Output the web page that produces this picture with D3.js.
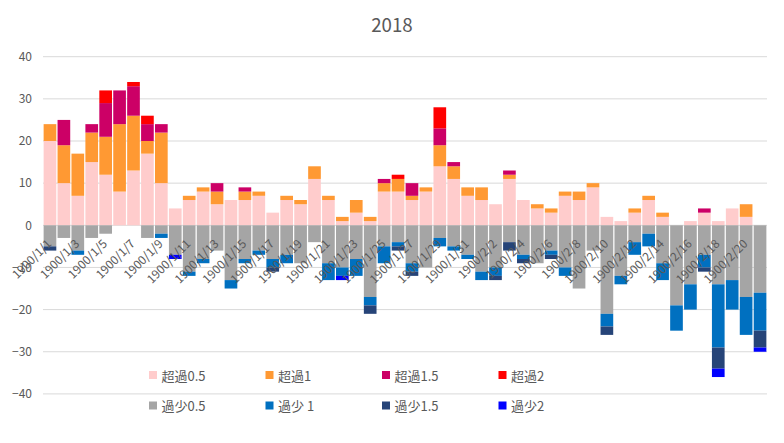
<!DOCTYPE html>
<html>
<head>
<meta charset="utf-8">
<script src="https://cdn.jsdelivr.net/npm/d3@7"></script>
<style>
html,body{margin:0;padding:0;background:#fff;}
svg{display:block;font-family:"Noto Sans CJK JP","Noto Sans",sans-serif;}
</style>
</head>
<body>
<svg id="chart" width="784" height="443"></svg>
<script>
// ---- data ----
const title = "2018";
const categories = [
 "1900/1/1","1900/1/2","1900/1/3","1900/1/4","1900/1/5","1900/1/6","1900/1/7","1900/1/8","1900/1/9","1900/1/10",
 "1900/1/11","1900/1/12","1900/1/13","1900/1/14","1900/1/15","1900/1/16","1900/1/17","1900/1/18","1900/1/19","1900/1/20",
 "1900/1/21","1900/1/22","1900/1/23","1900/1/24","1900/1/25","1900/1/26","1900/1/27","1900/1/28","1900/1/29","1900/1/30",
 "1900/1/31","1900/2/1","1900/2/2","1900/2/3","1900/2/4","1900/2/5","1900/2/6","1900/2/7","1900/2/8","1900/2/9",
 "1900/2/10","1900/2/11","1900/2/12","1900/2/13","1900/2/14","1900/2/15","1900/2/16","1900/2/17","1900/2/18","1900/2/19",
 "1900/2/20","1900/2/21"
];
const seriesNames = ["超過0.5","超過1","超過1.5","超過2","過少0.5","過少 1","過少1.5","過少2"];
const seriesColors = ["#FFCCCC","#FF9933","#CC0066","#FF0000","#A5A5A5","#0070C0","#264478","#0000FF"];
const over05 = [20,10,7,15,12,8,13,17,10,4, 6,8,5,6,6,7,3,6,5,11, 6,1,3,1,8,8,6,8,14,11, 7,6,5,11,6,4,3,7,6,9, 2,1,3,6,2,0,1,3,1,4, 2,0];
const over1  = [4,9,10,7,9,16,13,3,12,0, 1,1,3,0,2,1,0,1,1,3, 1,1,3,1,2,3,1,1,5,3, 2,3,0,1,0,1,1,1,2,1, 0,0,1,1,1,0,0,0,0,0, 3,0];
const over15 = [0,6,0,2,8,8,7,4,2,0, 0,0,2,0,1,0,0,0,0,0, 0,0,0,0,1,0,3,0,4,1, 0,0,0,1,0,0,0,0,0,0, 0,0,0,0,0,0,0,1,0,0, 0,0];
const over2  = [0,0,0,0,3,0,1,2,0,0, 0,0,0,0,0,0,0,0,0,0, 0,0,0,0,0,1,0,0,5,0, 0,0,0,0,0,0,0,0,0,0, 0,0,0,0,0,0,0,0,0,0, 0,0];
const under05 = [-5,-3,-6,-3,-2,0,0,-3,-2,-7, -11,-8,-6,-13,-8,-6,-8,-7,-9,-4, -9,-10,-8,-17,-5,-4,-9,-10,-3,-5, -7,-11,-10,-4,-7,-9,-6,-10,-15,-6, -21,-12,-4,-2,-9,-19,-14,-7,-14,-13, -17,-16];
const under1  = [0,0,-1,0,0,0,0,0,-1,0, -1,-1,0,-2,-1,-1,-2,-2,0,0, -4,-2,-4,-2,-4,-1,-2,0,-2,-1, -1,-2,-2,0,-1,0,-1,-2,0,0, -3,-2,-3,-3,-4,-6,-6,-3,-15,-7, -9,-9];
const under15 = [-1,0,0,0,0,0,0,0,0,0, 0,0,0,0,0,0,-1,0,0,0, 0,0,0,-2,0,-1,-1,0,0,0, 0,0,-1,-2,-1,0,-1,0,0,0, -2,0,0,0,0,0,0,-1,-5,0, 0,-4];
const under2  = [0,0,0,0,0,0,0,0,0,-1, 0,0,0,0,0,0,0,0,0,0, 0,-1,0,0,0,0,0,0,0,0, 0,0,0,0,0,0,0,0,0,0, 0,0,0,0,0,0,0,0,-2,0, 0,-1];
const yTicks = [-40,-30,-20,-10,0,10,20,30,40];

// ---- build table ----
const seriesData = [over05,over1,over15,over2,under05,under1,under15,under2];
const rows = categories.map((c,i)=>{
  const r = {cat:c};
  seriesNames.forEach((n,k)=>{ r[n] = seriesData[k][i]; });
  return r;
});

const svg = d3.select("#chart");
const W = 784, H = 443;
const plot = {left:43, right:767, top:56.7, bottom:393.9};

const x = d3.scaleBand().domain(categories).range([plot.left, plot.right]).paddingInner(0.09).paddingOuter(0.045);
const y = d3.scaleLinear().domain([-40,40]).range([plot.bottom, plot.top]);

// gridlines
svg.append("g").selectAll("line").data(yTicks).join("line")
  .attr("x1", plot.left).attr("x2", plot.right)
  .attr("y1", d=>y(d)).attr("y2", d=>y(d))
  .attr("stroke", "#D9D9D9").attr("stroke-width", 1);

// y axis labels
const yAxis = d3.axisLeft(y).tickValues(yTicks).tickSize(0).tickPadding(0);
const gy = svg.append("g").attr("transform", `translate(${plot.left-11},0)`).call(yAxis);
gy.select(".domain").remove();
gy.selectAll("text").attr("fill","#595959").style("font-size","12px")
  .style("font-family","'Noto Sans CJK JP','Noto Sans',sans-serif");

// stacked bars
const stack = d3.stack().keys(seriesNames).offset(d3.stackOffsetDiverging);
const stacked = stack(rows);
svg.append("g").selectAll("g").data(stacked).join("g")
  .attr("fill", (d,i)=>seriesColors[i])
  .selectAll("rect").data(d=>d).join("rect")
  .attr("x", d=>x(d.data.cat))
  .attr("width", x.bandwidth())
  .attr("y", d=>y(Math.max(d[0],d[1])))
  .attr("height", d=>Math.abs(y(d[0])-y(d[1])));

// category axis labels (every other)
const xAxis = d3.axisBottom(x).tickValues(categories.filter((c,i)=>i%2===0)).tickSize(0).tickPadding(0);
const gx = svg.append("g").attr("transform", `translate(0,${y(0)})`).call(xAxis);
gx.select(".domain").remove();
gx.selectAll("text")
  .attr("fill","#595959").style("font-size","12px")
  .style("font-family","'Noto Sans CJK JP','Noto Sans',sans-serif")
  .attr("text-anchor","end")
  .attr("dy", null).attr("y", null)
  .attr("transform","translate(0,17) rotate(-45)")
  .attr("dominant-baseline","middle");

// title
svg.append("text").attr("x", W/2).attr("y", 31.5).attr("text-anchor","middle")
  .attr("fill","#595959").style("font-size","18.7px").text(title);

// legend
const legCols = [149, 265.5, 382, 498.5];
const legRows = [375, 405.5];
const leg = svg.append("g").selectAll("g").data(seriesNames).join("g")
  .attr("transform",(d,i)=>`translate(${legCols[i%4]},${legRows[Math.floor(i/4)]})`);
leg.append("rect").attr("x",0).attr("y",-4).attr("width",8).attr("height",8)
  .attr("fill",(d,i)=>seriesColors[i]);
leg.append("text").attr("x",12.5).attr("y",0).attr("dominant-baseline","central")
  .attr("fill","#595959").style("font-size","13px").text(d=>d);
</script>
</body>
</html>
